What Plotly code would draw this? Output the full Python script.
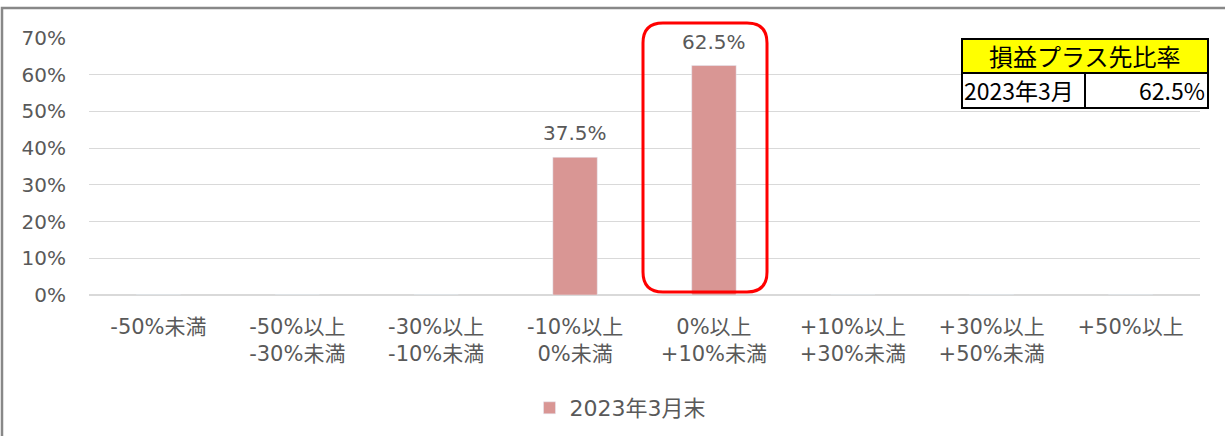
import plotly.graph_objects as go

categories = ["-50%未満", "-50%以上<br>-30%未満", "-30%以上<br>-10%未満", "-10%以上<br>0%未満",
              "0%以上<br>+10%未満", "+10%以上<br>+30%未満", "+30%以上<br>+50%未満", "+50%以上"]
values = [0, 0, 0, 37.5, 62.5, 0, 0, 0]
series_name = "2023年3月末"
table_title = "損益プラス先比率"
table_label = "2023年3月"
table_value = "62.5%"

W, H = 1225, 436
L, R, T, B = 89, 25, 38, 141
PW, PH = W - L - R, H - T - B

def px(x):
    return (x - L) / PW

def py(y):
    return (H - B - y) / PH

FONT = "DejaVu Sans, Noto Sans CJK JP, sans-serif"
GRAY = "#595959"

fig = go.Figure()
fig.add_trace(go.Bar(
    x=categories, y=values, name=series_name, width=0.32,
    marker=dict(color="#D99694"),
    showlegend=True,
))

annotations = []
for c, v in zip(categories, values):
    if v > 0:
        annotations.append(dict(x=c, y=v, xref="x", yref="y", text=f"{v}%", showarrow=False,
                                yanchor="middle", xanchor="center", yshift=24,
                                font=dict(size=20, color=GRAY, family=FONT)))

shapes = []
# outer frame
shapes.append(dict(type="rect", xref="paper", yref="paper",
                   x0=px(2), x1=px(1240), y0=py(450), y1=py(8),
                   line=dict(color="#888888", width=2.5), layer="below"))
# rounded highlight rect
x0, x1, y0, y1 = px(643), px(767), py(292), py(23)
rx, ry = 20 / PW, 20 / PH
path = (f"M {x0+rx},{y1} L {x1-rx},{y1} Q {x1},{y1} {x1},{y1-ry} "
        f"L {x1},{y0+ry} Q {x1},{y0} {x1-rx},{y0} L {x0+rx},{y0} "
        f"Q {x0},{y0} {x0},{y0+ry} L {x0},{y1-ry} Q {x0},{y1} {x0+rx},{y1} Z")
shapes.append(dict(type="path", xref="paper", yref="paper", path=path,
                   line=dict(color="#FF0000", width=3)))
# table
tx0, tx1, tsplit = px(962), px(1208), px(1085)
ty0, ty1, ty2 = py(39), py(73), py(108)
shapes.append(dict(type="rect", xref="paper", yref="paper", x0=tx0, x1=tx1, y0=ty1, y1=ty0,
                   fillcolor="#FFFF00", line=dict(color="black", width=2)))
shapes.append(dict(type="rect", xref="paper", yref="paper", x0=tx0, x1=tsplit, y0=ty2, y1=ty1,
                   fillcolor="white", line=dict(color="black", width=2)))
shapes.append(dict(type="rect", xref="paper", yref="paper", x0=tsplit, x1=tx1, y0=ty2, y1=ty1,
                   fillcolor="white", line=dict(color="black", width=2)))

TFONT = "Noto Sans CJK JP, sans-serif"
annotations += [
    dict(xref="paper", yref="paper", x=(tx0 + tx1) / 2, y=(ty0 + ty1) / 2, text=table_title,
         showarrow=False, font=dict(size=24, color="black", family=TFONT),
         xanchor="center", yanchor="middle"),
    dict(xref="paper", yref="paper", x=tx0 + 0 / PW, y=(ty1 + ty2) / 2, text=table_label,
         showarrow=False, font=dict(size=23, color="black", family=TFONT),
         xanchor="left", yanchor="middle"),
    dict(xref="paper", yref="paper", x=tx1 - 1 / PW, y=(ty1 + ty2) / 2, text=table_value,
         showarrow=False, font=dict(size=23, color="black", family=TFONT),
         xanchor="right", yanchor="middle"),
]

fig.update_layout(
    width=W, height=H,
    margin=dict(l=L, r=R, t=T, b=B, autoexpand=False),
    paper_bgcolor="white", plot_bgcolor="white",
    font=dict(family=FONT, color=GRAY, size=20),
    shapes=shapes, annotations=annotations,
    legend=dict(orientation="h", x=px(620), xanchor="center", y=py(408), yanchor="middle",
                itemwidth=30, font=dict(size=22, color=GRAY, family=FONT)),
    xaxis=dict(type="category", showgrid=False, showline=False, ticks="", automargin=False,
               tickfont=dict(size=21, color=GRAY, family=FONT), ticklabelstandoff=17),
    yaxis=dict(range=[0, 70], dtick=10, ticksuffix="%", showgrid=True, gridcolor="#D9D9D9",
               gridwidth=1, zeroline=True, zerolinecolor="#D9D9D9", showline=False,
               automargin=False,
               tickfont=dict(size=20, color=GRAY, family=FONT), ticklabelstandoff=22),
    bargap=0.5,
)

fig.write_html("out.html")
